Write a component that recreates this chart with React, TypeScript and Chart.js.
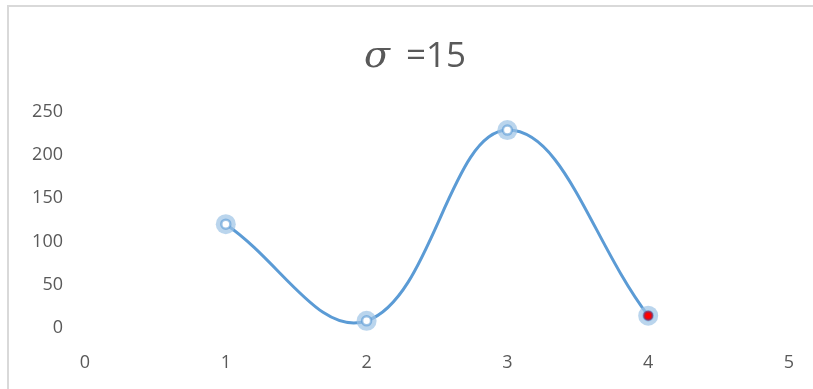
import React, { useEffect, useRef } from 'react';
import { Chart, registerables } from 'chart.js';

Chart.register(...registerables);

// ---- data ----
const xValues = [1, 2, 3, 4];
const yValues = [120, 8, 229, 14];
const highlightIndex = 3;
const xTicks = [0, 1, 2, 3, 4, 5];
const yTicks = [0, 50, 100, 150, 200, 250];
const titleSymbol = 'σ';
const titleRest = '=15';

const TEXT = '#595959';
const LINE = '#5b9bd5';
const FONT = '"Open Sans", "Liberation Sans", sans-serif';

const titlePlugin = {
  id: 'sigmaTitle',
  afterDraw(chart: any) {
    const ctx = chart.ctx;
    ctx.save();
    ctx.fillStyle = TEXT;
    ctx.textBaseline = 'alphabetic';
    ctx.textAlign = 'left';
    const symFont = 'italic 38px "DejaVu Serif", "Liberation Serif", serif';
    const restFont = '35px ' + FONT;
    ctx.font = symFont;
    const symW = ctx.measureText(titleSymbol).width;
    ctx.font = restFont;
    const restW = ctx.measureText(titleRest).width;
    const gap = 16;
    const total = symW + gap + restW;
    const cx = 415;
    const start = cx - total / 2;
    const baseline = 67;
    ctx.font = symFont;
    ctx.fillText(titleSymbol, start, baseline);
    ctx.font = restFont;
    ctx.fillText(titleRest, start + symW + gap, baseline);
    ctx.restore();
  },
};

export default function App() {
  const ref = useRef<HTMLCanvasElement | null>(null);

  useEffect(() => {
    if (!ref.current) return;
    const pts = xValues.map((x, i) => ({ x, y: yValues[i] }));
    const chart = new Chart(ref.current, {
      type: 'scatter',
      data: {
        datasets: [
          {
            // highlighted (red) marker centre
            data: [pts[highlightIndex]],
            showLine: false,
            pointRadius: 4,
            pointBorderWidth: 2,
            pointBackgroundColor: '#ff0000',
            pointBorderColor: 'rgba(150,40,80,0.75)',
          },
          {
            // marker centres
            data: pts,
            showLine: false,
            pointRadius: 4.5,
            pointBorderWidth: 2.5,
            pointBackgroundColor: pts.map((_, i) => (i === highlightIndex ? 'rgba(0,0,0,0)' : '#ffffff')),
            pointBorderColor: 'rgba(91,155,213,0.6)',
          },
          {
            // marker glow
            data: pts,
            showLine: false,
            pointRadius: 10,
            pointBorderWidth: 0,
            pointBackgroundColor: 'rgba(157,195,230,0.7)',
            pointBorderColor: 'rgba(0,0,0,0)',
          },
          {
            // smoothed line
            data: pts,
            showLine: true,
            borderColor: LINE,
            borderWidth: 3,
            tension: 0.4,
            pointRadius: 0,
            fill: false,
          },
        ],
      },
      options: {
        animation: false,
        responsive: false,
        devicePixelRatio: 1,
        clip: false as any,
        layout: { padding: { top: 112, left: 0, right: 24, bottom: 14 } },
        plugins: {
          legend: { display: false },
          title: { display: false },
          tooltip: { enabled: false },
        },
        events: [],
        scales: {
          x: {
            type: 'linear',
            min: 0,
            max: 5,
            afterBuildTicks: (s: any) => {
              s.ticks = xTicks.map((v) => ({ value: v }));
            },
            afterFit: (s: any) => {
              s.height = 30;
            },
            grid: { display: false, drawTicks: false },
            border: { display: false },
            ticks: { color: TEXT, font: { family: FONT, size: 18 }, padding: 7 },
          },
          y: {
            type: 'linear',
            min: -20,
            max: 250,
            afterBuildTicks: (s: any) => {
              s.ticks = yTicks.map((v) => ({ value: v }));
            },
            afterFit: (s: any) => {
              s.width = 85;
            },
            grid: { display: false, drawTicks: false },
            border: { display: false },
            ticks: { color: TEXT, font: { family: FONT, size: 18 }, padding: 22 },
          },
        },
      },
      plugins: [titlePlugin],
    });
    return () => chart.destroy();
  }, []);

  return (
    <div style={{ position: 'fixed', left: 0, top: 0, width: 813, height: 389, overflow: 'hidden', background: '#ffffff' }}>
      <div
        style={{
          position: 'absolute',
          left: 7,
          top: 5,
          width: 900,
          height: 500,
          borderTop: '2px solid #d9d9d9',
          borderLeft: '2px solid #d9d9d9',
        }}
      />
      <canvas ref={ref} width={813} height={389} style={{ position: 'absolute', left: 0, top: 0, width: 813, height: 389 }} />
    </div>
  );
}
